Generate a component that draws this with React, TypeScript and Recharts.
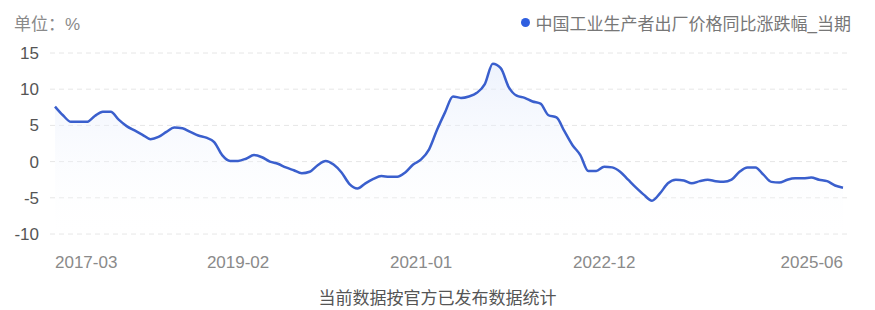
import React from "react";
import { AreaChart, Area, XAxis, YAxis, CartesianGrid } from "recharts";

const seriesName = "中国工业生产者出厂价格同比涨跌幅_当期";

const months: string[] = [];
for (let y = 2017; y <= 2025; y++) {
  for (let m = 1; m <= 12; m++) {
    if (y === 2017 && m < 3) continue;
    if (y === 2025 && m > 6) continue;
    months.push(`${y}-${String(m).padStart(2, "0")}`);
  }
}

const ppiValues = [
  7.6, 6.4, 5.5, 5.5, 5.5, 6.3, 6.9, 6.9, 5.8, 4.9,
  4.3, 3.7, 3.1, 3.4, 4.1, 4.7, 4.6, 4.1, 3.6, 3.3, 2.7, 0.9,
  0.1, 0.1, 0.4, 0.9, 0.6, 0.0, -0.3, -0.8, -1.2, -1.6, -1.4, -0.5,
  0.1, -0.4, -1.5, -3.1, -3.7, -3.0, -2.4, -2.0, -2.1, -2.1, -1.5, -0.4,
  0.3, 1.7, 4.4, 6.8, 9.0, 8.8, 9.0, 9.5, 10.7, 13.5, 12.9, 10.3,
  9.1, 8.8, 8.3, 8.0, 6.4, 6.1, 4.2, 2.3, 0.9, -1.3, -1.3, -0.7,
  -0.8, -1.4, -2.5, -3.6, -4.6, -5.4, -4.4, -3.0, -2.5, -2.6, -3.0, -2.7,
  -2.5, -2.7, -2.8, -2.5, -1.4, -0.8, -0.8, -1.8, -2.8, -2.9, -2.5, -2.3,
  -2.3, -2.2, -2.5, -2.7, -3.3, -3.6,
];

const xTicks = ["2017-03", "2019-02", "2021-01", "2022-12", "2025-06"];
const yTicks = [-10, -5, 0, 5, 10, 15];

const data = months.map((month, i) => ({ month, value: ppiValues[i] }));

const FONT = '"Liberation Sans", "Noto Sans CJK SC", sans-serif';

const XTick = (props: any) => {
  const { x, y, payload } = props;
  const idx = xTicks.indexOf(payload.value);
  const anchor = idx === 0 ? "start" : idx === xTicks.length - 1 ? "end" : "middle";
  return (
    <text x={x} y={y + 26} textAnchor={anchor} fill="#8a8a8a" fontSize={17} fontFamily={FONT}>
      {payload.value}
    </text>
  );
};

export default function App() {
  return (
    <div style={{ position: "absolute", left: 0, top: 0, width: 875, height: 310, background: "#fff", fontFamily: FONT }}>
      <div style={{ position: "absolute", left: 14, top: 10, fontSize: 17, color: "#8a8a8a" }}>单位：%</div>
      <div
        style={{
          position: "absolute",
          right: 24,
          top: 10,
          display: "flex",
          alignItems: "center",
          fontSize: 17,
          color: "#777",
        }}
      >
        <span style={{ width: 9, height: 9, borderRadius: 5, background: "#2f5fe0", marginRight: 6 }} />
        {seriesName}
      </div>
      <AreaChart width={875} height={310} data={data} margin={{ top: 53, right: 27, bottom: 46, left: 0 }}>
        <defs>
          <linearGradient id="ppiFill" x1="0" y1="0" x2="0" y2="1">
            <stop offset="0%" stopColor="#dfe8fb" stopOpacity={0.9} />
            <stop offset="100%" stopColor="#ffffff" stopOpacity={0.2} />
          </linearGradient>
        </defs>
        <CartesianGrid vertical={false} stroke="#e6e6e6" strokeDasharray="5 4" />
        <XAxis
          dataKey="month"
          ticks={xTicks}
          interval={0}
          tick={<XTick />}
          axisLine={false}
          tickLine={false}
          height={30}
          padding={{ left: 5, right: 5 }}
        />
        <YAxis
          domain={[-10, 15]}
          ticks={yTicks}
          width={50}
          axisLine={false}
          tickLine={false}
          tickSize={0}
          tickMargin={11}
          tick={{ fill: "#555", fontSize: 17, fontFamily: FONT }}
        />
        <Area
          type="monotone"
          dataKey="value"
          name={seriesName}
          stroke="#3a5fcd"
          strokeWidth={2.5}
          fill="url(#ppiFill)"
          baseValue={-10}
          dot={false}
          activeDot={false}
          isAnimationActive={false}
        />
      </AreaChart>
      <div style={{ position: "absolute", left: 0, width: 875, top: 284, textAlign: "center", fontSize: 17, color: "#555" }}>
        当前数据按官方已发布数据统计
      </div>
    </div>
  );
}
